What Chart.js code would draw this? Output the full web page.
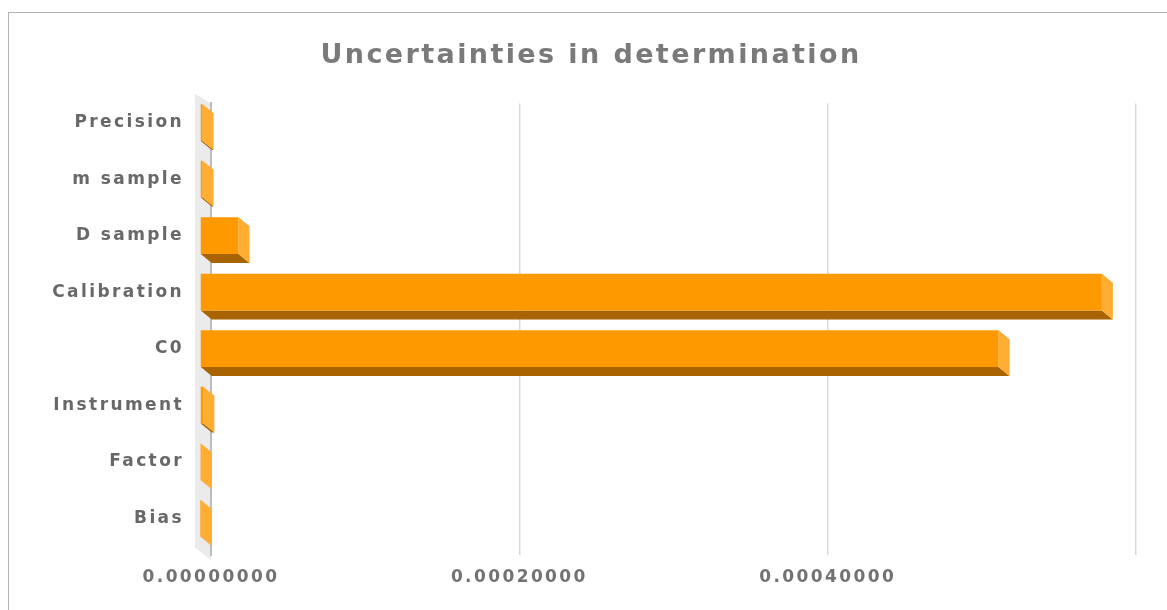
<!DOCTYPE html>
<html>
<head>
<meta charset="utf-8">
<title>Uncertainties in determination</title>
<script src="https://cdn.jsdelivr.net/npm/chart.js@4/dist/chart.umd.min.js"></script>
<style>
  html, body { margin: 0; padding: 0; background: #fff; overflow: hidden; }
  #frame {
    position: absolute; left: 8px; top: 12px;
    width: 1164px; height: 620px;
    border: 1px solid #b4b4b4;
  }
</style>
</head>
<body>
<div id="frame"><canvas id="chart" width="1164" height="620"></canvas></div>
<script>
// data
const categories = ['Precision', 'm sample', 'D sample', 'Calibration', 'C0', 'Instrument', 'Factor', 'Bias'];
const uncertainty = [0.0000017, 0.0000017, 0.000025, 0.000585, 0.000518, 0.0000022, 0.0000004, 0.0000003];
const xTickLabels = ['0.00000000', '0.00020000', '0.00040000', ''];

const FONT = 'DejaVu Sans';
const DX = 11, DY = 9;   // depth of the 3d bars

// wide letters, like the original heavy font
const spacing = {
  id: 'spacing',
  beforeUpdate(chart) { chart.ctx.letterSpacing = '2.4px' },
  beforeDraw(chart) { chart.ctx.letterSpacing = '2.4px' }
}

// grey side wall at the zero line
const wall = {
  id: 'wall',
  beforeDraw(chart) {
    const a = chart.chartArea, ctx = chart.ctx;
    ctx.save();
    ctx.fillStyle = '#ebebeb';
    ctx.beginPath();
    ctx.moveTo(a.left, a.top);
    ctx.lineTo(a.left - 16, a.top - 10);
    ctx.lineTo(a.left - 16, a.bottom - 8);
    ctx.lineTo(a.left, a.bottom + 5);
    ctx.closePath();
    ctx.fill();
    ctx.restore();
  }
}

// side and bottom faces, then shift the front face
const bars3d = {
  id: 'bars3d',
  beforeDatasetsDraw(chart) {
    const ctx = chart.ctx;
    const meta = chart.getDatasetMeta(0);
    ctx.save();
    meta.data.forEach(function (bar) {
      const p = bar.getProps(['x', 'y', 'base', 'height'], true);
      const top = p.y - p.height / 2, bot = p.y + p.height / 2;
      // bottom
      ctx.fillStyle = '#a86400';
      ctx.beginPath();
      ctx.moveTo(p.base - DX, bot - DY);
      ctx.lineTo(p.x - DX, bot - DY);
      ctx.lineTo(p.x, bot);
      ctx.lineTo(p.base, bot);
      ctx.closePath();
      ctx.fill();
      // right side
      ctx.fillStyle = '#ffad33';
      ctx.beginPath();
      ctx.moveTo(p.x - DX, top - DY);
      ctx.lineTo(p.x, top);
      ctx.lineTo(p.x, bot);
      ctx.lineTo(p.x - DX, bot - DY);
      ctx.closePath();
      ctx.fill();
    });
    ctx.restore();
    ctx.save();
    ctx.translate(-DX, -DY);
  },
  afterDatasetsDraw(chart) {
    chart.ctx.restore();
  }
}

const ctx = document.getElementById('chart').getContext('2d');
const chart = new Chart(ctx, {
  type: 'bar',
  data: {
    labels: categories,
    datasets: [{
      data: uncertainty,
      backgroundColor: '#ff9900',
      borderWidth: 0,
      categoryPercentage: 1,
      barPercentage: 0.65
    }]
  },
  options: {
    indexAxis: 'y',
    responsive: false,
    animation: false,
    devicePixelRatio: 1,
    layout: { padding: { left: 37, right: 37, top: 0, bottom: 0 } },
    plugins: {
      legend: { display: false },
      tooltip: { enabled: false },
      title: {
        display: true,
        text: 'Uncertainties in determination',
        color: '#7a7a7a',
        font: { family: FONT, size: 27, weight: 'bold' },
        padding: { top: 27, bottom: 31 }
      }
    },
    scales: {
      x: {
        min: 0,
        max: 0.0006,
        ticks: {
          stepSize: 0.0002,
          color: '#727272',
          padding: 12,
          maxRotation: 0,
          font: { family: FONT, size: 17, weight: 'bold' },
          callback: function (v, i) { return xTickLabels[i] }
        },
        grid: {
          drawTicks: false,
          color: '#d9d9d9',
          lineWidth: 1.5
        },
        border: { display: false },
        afterFit: function (scale) { scale.height = 77.6 }
      },
      y: {
        ticks: {
          color: '#686868',
          padding: 27,
          labelOffset: -DY,
          font: { family: FONT, size: 17, weight: 'bold' }
        },
        grid: { display: false, drawTicks: false },
        border: { display: true, color: '#bcbcbc', width: 2 },
        afterFit: function (scale) { scale.width = 165 }
      }
    }
  },
  plugins: [spacing, wall, bars3d]
});
</script>
</body>
</html>
